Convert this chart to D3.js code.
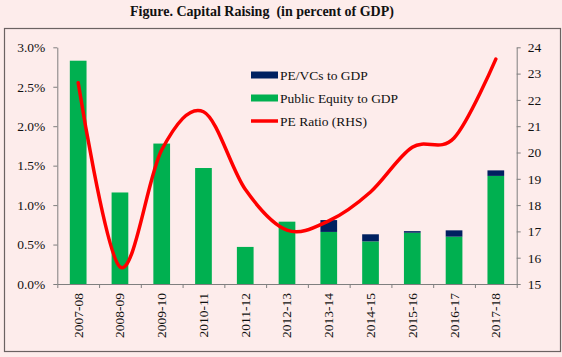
<!DOCTYPE html>
<html><head><meta charset="utf-8">
<script src="https://cdn.jsdelivr.net/npm/d3@7"></script>
<style>
html,body{margin:0;padding:0;background:#fdeceb;}
svg{display:block;}
svg text{font-family:'Liberation Serif','DejaVu Serif','Times New Roman',serif !important;}
</style></head>
<body><svg id="chart" width="562" height="357"></svg>
<script>
const categories = ["2007-08","2008-09","2009-10","2010-11","2011-12","2012-13","2013-14","2014-15","2015-16","2016-17","2017-18"];
const publicEquity = [2.83, 1.16, 1.78, 1.47, 0.47, 0.79, 0.66, 0.54, 0.65, 0.60, 1.37];
const peVcs = [0, 0, 0, 0, 0, 0, 0.15, 0.09, 0.02, 0.08, 0.07];
const peRatio = [22.65, 15.65, 20.1, 21.55, 18.6, 17.05, 17.4, 18.5, 20.2, 20.55, 23.55];
const leftTicks = [0, 0.5, 1.0, 1.5, 2.0, 2.5, 3.0];
const rightTicks = [15,16,17,18,19,20,21,22,23,24];
const titleText = "Figure. Capital Raising  (in percent of GDP)";
const legendItems = [
  {label:"PE/VCs to GDP", type:"rect", color:"#002060"},
  {label:"Public Equity to GDP", type:"rect", color:"#00b050"},
  {label:"PE Ratio (RHS)", type:"line", color:"#ff0000"}
];

const FONT = "'Liberation Serif','DejaVu Serif','Times New Roman',serif";
const svg = d3.select("#chart").attr("font-family", FONT);
const X0 = 57.3, X1 = 516.7, Y0 = 284, Y1 = 47.3;
const axisColor = "#7f7f7f";

// frame
svg.append("rect").attr("x",4.5).attr("y",28.5).attr("width",556).attr("height",323)
  .attr("fill","#fdeceb").attr("stroke","#6b6262").attr("stroke-width",1.2);

svg.append("text").attr("x",262).attr("y",16).attr("text-anchor","middle")
  .attr("font-family",FONT).style("white-space","pre").attr("xml:space","preserve")
  .attr("font-weight","bold").attr("font-size",14).attr("fill","#111").text(titleText);

const x = d3.scaleBand().domain(categories).range([X0,X1]).paddingInner(0.6).paddingOuter(0.3);
const xi = d3.scaleLinear().domain([0,categories.length]).range([X0,X1]);
const yL = d3.scaleLinear().domain([0,3]).range([Y0,Y1]);
const yR = d3.scaleLinear().domain([15,24]).range([Y0,Y1]);

// bars
const g = svg.append("g");
g.selectAll("rect.pe").data(categories).join("rect")
  .attr("x",d=>x(d)).attr("width",x.bandwidth())
  .attr("y",(d,i)=>yL(publicEquity[i])).attr("height",(d,i)=>yL(0)-yL(publicEquity[i]))
  .attr("fill","#00b050");
g.selectAll("rect.vc").data(categories).join("rect")
  .attr("x",d=>x(d)).attr("width",x.bandwidth())
  .attr("y",(d,i)=>yL(publicEquity[i]+peVcs[i])).attr("height",(d,i)=>yL(0)-yL(peVcs[i]))
  .attr("fill","#002060");

// axes
function styleAxis(sel){
  sel.attr("font-family",FONT);
  sel.selectAll("path.domain").attr("stroke",axisColor).attr("stroke-width",1);
  sel.selectAll(".tick line").attr("stroke",axisColor);
  sel.selectAll("text").attr("fill","#111").attr("font-family",FONT);
}
const la = svg.append("g").attr("transform",`translate(${X0},0)`)
  .call(d3.axisLeft(yL).tickValues(leftTicks).tickSize(4).tickSizeOuter(0).tickPadding(8)
    .tickFormat(d=>d3.format(".1f")(d)+"%"));
la.selectAll("text").attr("font-size",13.5);
styleAxis(la);
const ra = svg.append("g").attr("transform",`translate(${X1},0)`)
  .call(d3.axisRight(yR).tickValues(rightTicks).tickSize(4).tickSizeOuter(0).tickPadding(7));
ra.selectAll("text").attr("font-size",13.5);
styleAxis(ra);
const bt = svg.append("g").attr("transform",`translate(0,${Y0})`)
  .call(d3.axisBottom(xi).tickValues(d3.range(categories.length+1)).tickSize(4).tickSizeOuter(0).tickFormat(""));
styleAxis(bt);
const bl = svg.append("g").attr("transform",`translate(0,${Y0})`)
  .call(d3.axisBottom(x).tickSize(0).tickSizeOuter(0));
bl.select("path.domain").remove();
bl.selectAll(".tick text").attr("font-size",13.5)
  .attr("transform","rotate(-90)").attr("text-anchor","end")
  .attr("x",-9).attr("y",0).attr("dy","0.33em");
styleAxis(bl);

// PE line
const line = d3.line().x((d,i)=>x(categories[i])+x.bandwidth()/2).y(d=>yR(d))
  .curve(d3.curveCardinal.tension(0));
svg.append("path").datum(peRatio).attr("d",line).attr("fill","none")
  .attr("stroke","#ff0000").attr("stroke-width",3.5).attr("stroke-linecap","round");

// legend
const lg = svg.append("g");
legendItems.forEach((it,i)=>{
  const yy = 75 + i*23;
  if(it.type==="rect"){
    lg.append("rect").attr("x",251).attr("y",yy-3.5).attr("width",27).attr("height",7).attr("fill",it.color);
  } else {
    lg.append("line").attr("x1",251).attr("x2",278).attr("y1",yy).attr("y2",yy)
      .attr("stroke",it.color).attr("stroke-width",3.5);
  }
  lg.append("text").attr("x",280).attr("y",yy).attr("dy","0.35em").attr("font-size",13.5)
    .attr("font-family",FONT).attr("fill","#111").text(it.label);
});
</script></body></html>
